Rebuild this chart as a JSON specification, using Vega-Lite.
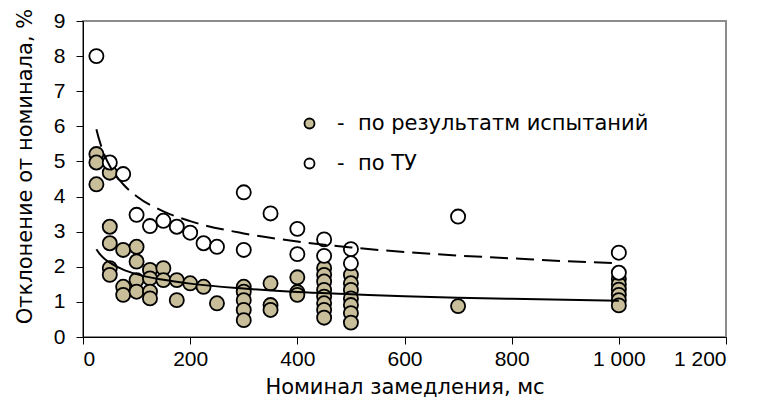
{
  "$schema": "https://vega.github.io/schema/vega-lite/v6.json",
  "width": 643,
  "height": 316,
  "autosize": "none",
  "padding": {"left": 83, "top": 21, "right": 32, "bottom": 78},
  "background": "white",
  "config": {
    "font": "Liberation Sans",
    "view": {"stroke": "#8c8c8c", "strokeWidth": 2},
    "axis": {
      "grid": false,
      "domainColor": "black",
      "domainWidth": 1,
      "tickColor": "black",
      "tickSize": 7,
      "labelColor": "black",
      "titleColor": "black",
      "labelFont": "Liberation Sans",
      "titleFont": "DejaVu Sans",
      "labelFontSize": 21,
      "titleFontSize": 21,
      "titleFontWeight": "normal"
    }
  },
  "datasets": {
    "points": [
      {"x": 25, "y": 5.21, "series": "по результатм испытаний"},
      {"x": 25, "y": 4.97, "series": "по результатм испытаний"},
      {"x": 25, "y": 4.35, "series": "по результатм испытаний"},
      {"x": 50, "y": 4.68, "series": "по результатм испытаний"},
      {"x": 50, "y": 3.14, "series": "по результатм испытаний"},
      {"x": 50, "y": 2.67, "series": "по результатм испытаний"},
      {"x": 50, "y": 1.96, "series": "по результатм испытаний"},
      {"x": 50, "y": 1.77, "series": "по результатм испытаний"},
      {"x": 75, "y": 2.48, "series": "по результатм испытаний"},
      {"x": 75, "y": 1.43, "series": "по результатм испытаний"},
      {"x": 75, "y": 1.2, "series": "по результатм испытаний"},
      {"x": 100, "y": 2.57, "series": "по результатм испытаний"},
      {"x": 100, "y": 2.15, "series": "по результатм испытаний"},
      {"x": 100, "y": 1.62, "series": "по результатм испытаний"},
      {"x": 100, "y": 1.29, "series": "по результатм испытаний"},
      {"x": 125, "y": 1.91, "series": "по результатм испытаний"},
      {"x": 125, "y": 1.67, "series": "по результатм испытаний"},
      {"x": 125, "y": 1.29, "series": "по результатм испытаний"},
      {"x": 125, "y": 1.1, "series": "по результатм испытаний"},
      {"x": 150, "y": 1.96, "series": "по результатм испытаний"},
      {"x": 150, "y": 1.62, "series": "по результатм испытаний"},
      {"x": 175, "y": 1.62, "series": "по результатм испытаний"},
      {"x": 175, "y": 1.05, "series": "по результатм испытаний"},
      {"x": 200, "y": 1.53, "series": "по результатм испытаний"},
      {"x": 225, "y": 1.43, "series": "по результатм испытаний"},
      {"x": 250, "y": 0.96, "series": "по результатм испытаний"},
      {"x": 300, "y": 1.43, "series": "по результатм испытаний"},
      {"x": 300, "y": 1.29, "series": "по результатм испытаний"},
      {"x": 300, "y": 1.05, "series": "по результатм испытаний"},
      {"x": 300, "y": 0.77, "series": "по результатм испытаний"},
      {"x": 300, "y": 0.48, "series": "по результатм испытаний"},
      {"x": 350, "y": 1.53, "series": "по результатм испытаний"},
      {"x": 350, "y": 0.91, "series": "по результатм испытаний"},
      {"x": 350, "y": 0.77, "series": "по результатм испытаний"},
      {"x": 400, "y": 1.7, "series": "по результатм испытаний"},
      {"x": 400, "y": 1.28, "series": "по результатм испытаний"},
      {"x": 400, "y": 1.2, "series": "по результатм испытаний"},
      {"x": 450, "y": 1.96, "series": "по результатм испытаний"},
      {"x": 450, "y": 1.77, "series": "по результатм испытаний"},
      {"x": 450, "y": 1.58, "series": "по результатм испытаний"},
      {"x": 450, "y": 1.34, "series": "по результатм испытаний"},
      {"x": 450, "y": 1.15, "series": "по результатм испытаний"},
      {"x": 450, "y": 0.96, "series": "по результатм испытаний"},
      {"x": 450, "y": 0.77, "series": "по результатм испытаний"},
      {"x": 450, "y": 0.55, "series": "по результатм испытаний"},
      {"x": 500, "y": 1.77, "series": "по результатм испытаний"},
      {"x": 500, "y": 1.53, "series": "по результатм испытаний"},
      {"x": 500, "y": 1.34, "series": "по результатм испытаний"},
      {"x": 500, "y": 1.1, "series": "по результатм испытаний"},
      {"x": 500, "y": 0.91, "series": "по результатм испытаний"},
      {"x": 500, "y": 0.68, "series": "по результатм испытаний"},
      {"x": 500, "y": 0.41, "series": "по результатм испытаний"},
      {"x": 700, "y": 0.88, "series": "по результатм испытаний"},
      {"x": 1000, "y": 1.65, "series": "по результатм испытаний"},
      {"x": 1000, "y": 1.5, "series": "по результатм испытаний"},
      {"x": 1000, "y": 1.35, "series": "по результатм испытаний"},
      {"x": 1000, "y": 1.2, "series": "по результатм испытаний"},
      {"x": 1000, "y": 1.05, "series": "по результатм испытаний"},
      {"x": 1000, "y": 0.9, "series": "по результатм испытаний"},
      {"x": 25, "y": 8.0, "series": "по ТУ"},
      {"x": 50, "y": 4.97, "series": "по ТУ"},
      {"x": 75, "y": 4.64, "series": "по ТУ"},
      {"x": 100, "y": 3.48, "series": "по ТУ"},
      {"x": 125, "y": 3.16, "series": "по ТУ"},
      {"x": 150, "y": 3.31, "series": "по ТУ"},
      {"x": 175, "y": 3.14, "series": "по ТУ"},
      {"x": 200, "y": 2.97, "series": "по ТУ"},
      {"x": 225, "y": 2.67, "series": "по ТУ"},
      {"x": 250, "y": 2.57, "series": "по ТУ"},
      {"x": 300, "y": 4.12, "series": "по ТУ"},
      {"x": 300, "y": 2.48, "series": "по ТУ"},
      {"x": 350, "y": 3.52, "series": "по ТУ"},
      {"x": 400, "y": 3.08, "series": "по ТУ"},
      {"x": 400, "y": 2.36, "series": "по ТУ"},
      {"x": 450, "y": 2.78, "series": "по ТУ"},
      {"x": 450, "y": 2.31, "series": "по ТУ"},
      {"x": 500, "y": 2.5, "series": "по ТУ"},
      {"x": 500, "y": 2.1, "series": "по ТУ"},
      {"x": 700, "y": 3.43, "series": "по ТУ"},
      {"x": 1000, "y": 2.4, "series": "по ТУ"},
      {"x": 1000, "y": 1.83, "series": "по ТУ"}
    ],
    "fitTest": [
      {"x": 25, "y": 2.5}, {"x": 30, "y": 2.39}, {"x": 40, "y": 2.23},
      {"x": 50, "y": 2.12}, {"x": 75, "y": 1.92}, {"x": 100, "y": 1.79},
      {"x": 150, "y": 1.63}, {"x": 200, "y": 1.52}, {"x": 300, "y": 1.38},
      {"x": 400, "y": 1.28}, {"x": 500, "y": 1.22}, {"x": 600, "y": 1.16},
      {"x": 700, "y": 1.12}, {"x": 800, "y": 1.09}, {"x": 900, "y": 1.06},
      {"x": 1000, "y": 1.03}
    ],
    "fitSpec": [
      {"x": 25, "y": 5.92}, {"x": 30, "y": 5.63}, {"x": 40, "y": 5.19},
      {"x": 50, "y": 4.87}, {"x": 75, "y": 4.35}, {"x": 100, "y": 4.01},
      {"x": 150, "y": 3.58}, {"x": 200, "y": 3.3}, {"x": 300, "y": 2.95},
      {"x": 400, "y": 2.72}, {"x": 500, "y": 2.55}, {"x": 600, "y": 2.42},
      {"x": 700, "y": 2.32}, {"x": 800, "y": 2.24}, {"x": 900, "y": 2.16},
      {"x": 1000, "y": 2.1}
    ]
  },
  "encoding": {
    "x": {
      "field": "x",
      "type": "quantitative",
      "scale": {"domain": [0, 1200], "nice": false, "zero": true},
      "axis": {
        "title": "Номинал замедления, мс",
        "values": [0, 200, 400, 600, 800, 1000, 1200],
        "labelExpr": "datum.value == 1000 ? '1 000' : datum.value == 1200 ? '1 200' : datum.label",
        "labelPadding": 4,
        "titlePadding": 7
      }
    },
    "y": {
      "field": "y",
      "type": "quantitative",
      "scale": {"domain": [0, 9], "nice": false, "zero": true},
      "axis": {
        "title": "Отклонение от номинала, %",
        "values": [0, 1, 2, 3, 4, 5, 6, 7, 8, 9],
        "labelPadding": 11,
        "titlePadding": 18,
        "titleY": 145
      }
    }
  },
  "layer": [
    {
      "data": {"name": "points"},
      "mark": {"type": "point", "shape": "circle", "filled": true, "size": 200, "stroke": "black", "strokeWidth": 1.8, "opacity": 1},
      "encoding": {
        "fill": {
          "field": "series",
          "type": "nominal",
          "scale": {"domain": ["по результатм испытаний", "по ТУ"], "range": ["#C8BE9A", "#FFFFFF"]},
          "legend": {
            "title": null,
            "orient": "none",
            "legendX": 216,
            "legendY": 92,
            "padding": 0,
            "symbolType": "circle",
            "symbolSize": 100,
            "symbolStrokeColor": "black",
            "symbolStrokeWidth": 1.8,
            "labelFont": "DejaVu Sans",
            "labelFontSize": 21,
            "labelColor": "black",
            "labelOffset": 17,
            "labelLimit": 500,
            "rowPadding": 18,
            "labelExpr": "'-\u00a0\u00a0' + datum.label"
          }
        }
      }
    },
    {
      "data": {"name": "fitTest"},
      "mark": {"type": "line", "color": "black", "strokeWidth": 2, "interpolate": "monotone"},
      "encoding": {}
    },
    {
      "data": {"name": "fitSpec"},
      "mark": {"type": "line", "color": "black", "strokeWidth": 2, "strokeDash": [18, 8], "interpolate": "monotone"},
      "encoding": {}
    }
  ]
}
